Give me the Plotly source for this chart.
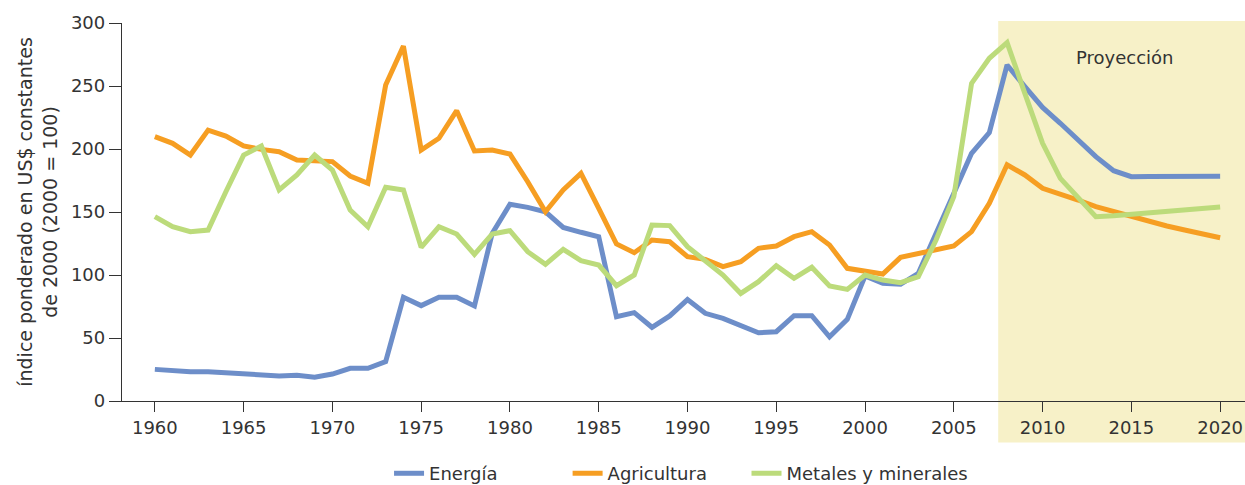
import plotly.graph_objects as go

years = list(range(1960, 2021))

energia = [25.1, 24.1, 23.3, 23.3, 22.5, 21.9, 20.6, 19.8, 20.4, 18.8,
           21.4, 25.9, 25.9, 31.2, 82.3, 75.7, 82.3, 82.3, 75.4, 133.0,
           156.1, 153.7, 150.2, 137.8, 133.9, 130.4, 66.9, 70.1, 58.5, 67.5,
           80.5, 69.6, 65.6, 60.3, 54.2, 55.0, 67.7, 67.7, 51.0, 64.8,
           99.2, 93.4, 92.6, 101.3, 133.0, 164.8, 196.6, 213.0, 266.7, 249.5,
           233.0, 220.4, 207.1, 193.9, 182.8, 178.0, 178.1, 178.2, 178.3, 178.3,
           178.3]

agricultura = [209.8, 204.5, 195.2, 215.0, 210.3, 202.4, 199.7, 197.9, 191.3, 190.7,
               190.0, 178.6, 172.8, 250.8, 281.7, 199.2, 208.5, 230.4, 198.4, 199.2,
               196.0, 174.0, 150.2, 167.5, 180.7, 152.9, 124.6, 117.7, 127.8, 126.4,
               114.5, 112.4, 106.6, 110.6, 121.2, 123.0, 130.4, 134.4, 123.8, 105.3,
               103.2, 100.8, 114.0, 117.2, 119.8, 123.0, 134.4, 156.9, 187.5, 179.4,
               168.8, 164.3, 159.5, 154.2, 150.2, 146.3, 142.3, 138.9, 135.7, 132.5,
               129.6]

metales = [146.3, 138.3, 134.4, 135.7, 166.1, 195.2, 202.4, 167.5, 179.4, 195.2,
           183.3, 151.6, 138.3, 169.6, 167.5, 122.0, 138.3, 132.5, 116.4, 132.5,
           135.2, 118.5, 108.5, 120.4, 111.4, 107.9, 91.5, 100.0, 139.7, 139.2,
           122.5, 111.4, 100.0, 85.4, 94.7, 107.4, 97.4, 106.1, 91.3, 88.6,
           100.0, 96.0, 93.9, 98.7, 127.8, 162.2, 252.1, 272.0, 284.4, 244.2,
           204.5, 176.7, 160.9, 146.3, 147.1, 148.4, 149.7, 150.6, 152.1, 153.0,
           154.0]

series_names = ["Energía", "Agricultura", "Metales y minerales"]
series_colors = ["#6d8ec9", "#f69e22", "#bcdb7b"]
legend_ids = ["legend", "legend2", "legend3"]
legend_x = [0.2378, 0.3968, 0.5561]

x_tick_vals = list(range(1960, 2021, 5))
y_tick_vals = [0, 50, 100, 150, 200, 250, 300]

proj_start = 2007.5
x_range = [1958.15, 2021.4]

FONT = "DejaVu Sans"
TXT = "#333333"

fig = go.Figure()
for name, vals, col, lid in zip(series_names, [energia, agricultura, metales], series_colors, legend_ids):
    fig.add_trace(go.Scatter(x=years, y=vals, mode="lines", name=name, legend=lid,
                             line=dict(color=col, width=5)))

fig.add_shape(type="rect", xref="x", yref="paper", x0=proj_start, x1=x_range[1],
              y0=-0.11, y1=1.005, fillcolor="#f7f1c8", line=dict(width=0), layer="below")

fig.add_annotation(x=2014.65, y=273, xref="x", yref="y", text="Proyección",
                   showarrow=False, font=dict(family=FONT, size=18, color=TXT))

legend_common = dict(orientation="h", xanchor="left", y=-0.192, yanchor="middle",
                     font=dict(family=FONT, size=18, color=TXT), bgcolor="rgba(0,0,0,0)")
layout_legends = {lid: dict(x=lx, **legend_common) for lid, lx in zip(legend_ids, legend_x)}

fig.update_layout(
    width=1245, height=485,
    margin=dict(l=122, r=0, t=23, b=84, autoexpand=False),
    plot_bgcolor="rgba(0,0,0,0)", paper_bgcolor="white",
    font=dict(family=FONT, size=18, color=TXT),
    showlegend=True,
    **layout_legends,
)
fig.update_xaxes(range=x_range, tickvals=x_tick_vals, ticks="outside", ticklen=10,
                 tickcolor="#333", showline=True, linecolor="#333", linewidth=1.3,
                 showgrid=False, zeroline=False, tickfont=dict(size=18), automargin=False)
fig.update_yaxes(range=[0, 300], tickvals=y_tick_vals, ticks="outside", ticklen=12,
                 tickcolor="#333", showline=True, linecolor="#333", linewidth=1.3,
                 showgrid=False, zeroline=False, tickfont=dict(size=18), automargin=False,
                 title=dict(text="índice ponderado en US$ constantes<br>de 2000 (2000 = 100)",
                            font=dict(size=19), standoff=8))

fig.write_html("out.html", config={"displayModeBar": False},
               post_script="document.body.style.margin='0';document.body.style.overflow='hidden';")
